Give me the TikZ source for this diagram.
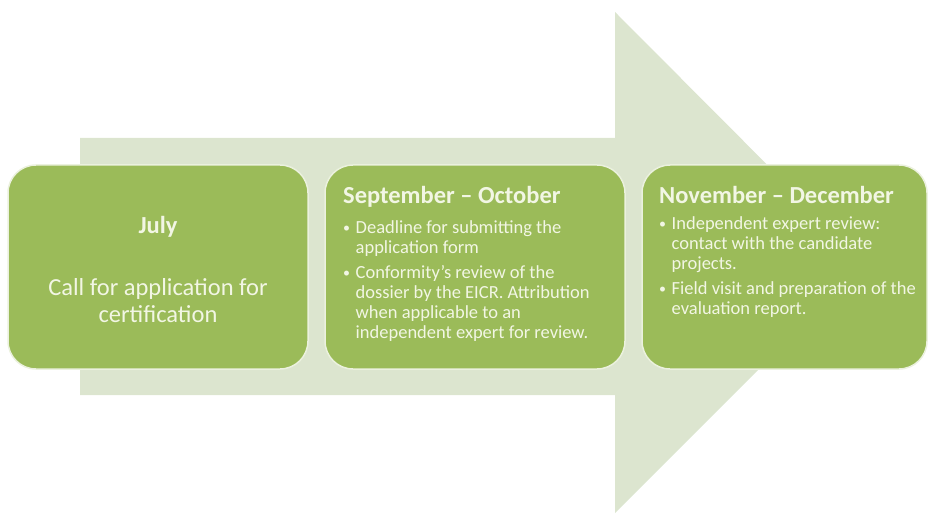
\documentclass[tikz,border=0pt]{standalone}
\usepackage{fontspec}
\setmainfont{Carlito}
\usetikzlibrary{positioning}

\definecolor{stagegreen}{HTML}{9BBB59}
\definecolor{arrowgreen}{HTML}{DCE5CF}
\definecolor{stagetext}{HTML}{F2F6E4}

\newcommand\stagebullet{\makebox[9pt][l]{\raisebox{1pt}{\fontsize{14}{14}\selectfont\textbullet}}}

\begin{document}
\begin{tikzpicture}[
		x=1pt, y=1pt,
		stage/.style = {
			draw=white!80!stagegreen, line width=1.5pt,
			fill=stagegreen,
			rounded corners=28pt,
			minimum height=204pt,
			outer sep=0pt, inner sep=0pt
			},
		stagetitle/.style = {
			anchor=north west, inner sep=0pt,
			text=stagetext,
			font=\fontsize{24.5}{27}\selectfont\bfseries
			},
		stageitems/.style = {
			inner sep=0pt,
			text=stagetext,
			font=\fontsize{18.5}{20}\selectfont
			}
		]
		\useasboundingbox (0,0) rectangle (928,520);
		
		% big arrow behind the stages
		\fill[arrowgreen] (80,382) -- (615,382) -- (615,508) -- (865,257)
			-- (615,7) -- (615,125) -- (80,125) -- cycle;
		
		\node [stage, minimum width=300pt] (july) at (158,253) {};
		\node [stage, minimum width=300pt, right=17pt of july] (sepoct) {};
		\node [stage, minimum width=285pt, right=17pt of sepoct] (novdec) {};
		
		\node [text=stagetext, align=center, font=\fontsize{24.5}{27}\selectfont]
			(julytext) at ([yshift=-2pt]july.center)
			{\textbf{July}\\[35pt]Call for application for\\certification};
		
		\node [stagetitle] (sepocttitle) at ([xshift=18pt,yshift=-21pt]sepoct.north west)
			{September -- October};
		\node [stageitems, below right=12pt and 0pt of sepocttitle.south west] (sepoctitems) {%
			\begin{tabular}{@{}l@{\hspace{3.5pt}}l@{}}
				\stagebullet & Deadline for submitting the\\
				             & application form\\[5pt]
				\stagebullet & Conformity’s review of the\\
				             & dossier by the EICR. Attribution\\
				             & when applicable to an\\
				             & independent expert for review.
			\end{tabular}};
		
		\node [stagetitle] (novdectitle) at ([xshift=17pt,yshift=-21pt]novdec.north west)
			{November -- December};
		\node [stageitems, below right=12pt and 0pt of novdectitle.south west] (novdecitems) {%
			\begin{tabular}{@{}l@{\hspace{3.5pt}}l@{}}
				\stagebullet & Independent expert review:\\
				             & contact with the candidate\\
				             & projects.\\[5pt]
				\stagebullet & Field visit and preparation of the\\
				             & evaluation report.
			\end{tabular}};
		
	\end{tikzpicture}
\end{document}
